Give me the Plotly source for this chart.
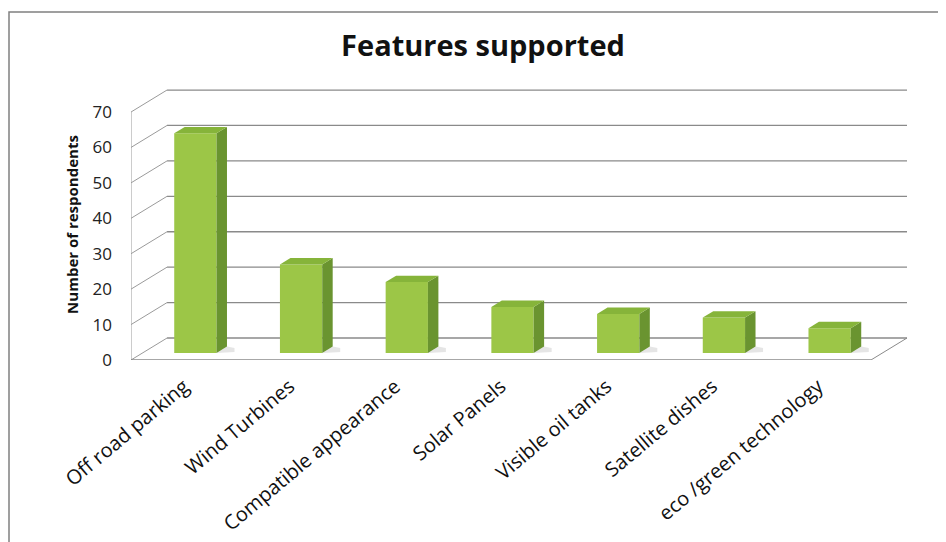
import plotly.graph_objects as go

# ---- data ----
categories = ["Off road parking", "Wind Turbines", "Compatible appearance", "Solar Panels",
              "Visible oil tanks", "Satellite dishes", "eco /green technology"]
respondents = [62, 25, 20, 13, 11, 10, 7]
y_ticks = [0, 10, 20, 30, 40, 50, 60, 70]

# ---- layout (page has an 8px body margin, so the figure is offset by 8px) ----
PAGE_OFF = 8
W, H = 946 - PAGE_OFF, 542 - PAGE_OFF
L, R, T, B = 131 - PAGE_OFF, 39, 89 - PAGE_OFF, 182

# ---- pseudo-3D geometry (axis units) ----
DX, DY = 0.341, 6.21          # wall depth offset
FX, FY = 0.109, 1.99          # bar front-face offset (depth inside floor)
HALF = 0.2                    # half bar width
BDX, BDY = 0.099, 1.8         # bar depth
XMIN, XMAX = -0.5, len(categories) - 0.5
YTOP = 76.5

FRONT = "#9cc647"
SIDE = "#6a9430"
TOP = "#86b43a"
GRID = "#8a8a8a"

fig = go.Figure()

# front faces of bars through the bar trace
fig.add_trace(go.Bar(
    x=[i + FX for i in range(len(categories))],
    y=respondents,
    base=[FY] * len(categories),
    width=2 * HALF,
    marker=dict(color=FRONT, line=dict(width=0)),
    hoverinfo="skip",
))

shapes = []
# back wall gridlines and side-wall diagonals
for v in y_ticks:
    shapes.append(dict(type="line", xref="x", yref="y", layer="below",
                       x0=XMIN + DX, y0=v + DY, x1=XMAX + DX, y1=v + DY,
                       line=dict(color=GRID, width=1.3)))
    shapes.append(dict(type="line", xref="x", yref="y", layer="below",
                       x0=XMIN, y0=v, x1=XMIN + DX, y1=v + DY,
                       line=dict(color="#9a9a9a", width=1)))
# side wall front vertical edge
shapes.append(dict(type="line", xref="x", yref="y", layer="below",
                   x0=XMIN, y0=0, x1=XMIN, y1=y_ticks[-1],
                   line=dict(color="#9a9a9a", width=1)))
# floor front edge and right diagonal
shapes.append(dict(type="line", xref="x", yref="y", layer="below",
                   x0=XMIN, y0=0, x1=XMAX, y1=0, line=dict(color=GRID, width=1.3)))
shapes.append(dict(type="line", xref="x", yref="y", layer="below",
                   x0=XMAX, y0=0, x1=XMAX + DX, y1=DY, line=dict(color=GRID, width=1)))

# bar shadows, side and top faces
for i, v in enumerate(respondents):
    x0 = i + FX - HALF
    x1 = i + FX + HALF
    shapes.append(dict(type="path", xref="x", yref="y", layer="below",
                       path=f"M{x1},{FY} L{x1 + 0.17},{FY + 0.3} L{x1 + 0.17},{FY + 1.4} L{x1 + BDX},{FY + BDY} Z",
                       fillcolor="rgba(150,150,150,0.25)", line=dict(width=0)))
    shapes.append(dict(type="path", xref="x", yref="y", layer="above",
                       path=f"M{x1},{FY} L{x1 + BDX},{FY + BDY} L{x1 + BDX},{FY + v + BDY} L{x1},{FY + v} Z",
                       fillcolor=SIDE, line=dict(width=0)))
    shapes.append(dict(type="path", xref="x", yref="y", layer="above",
                       path=f"M{x0},{FY + v} L{x1},{FY + v} L{x1 + BDX},{FY + v + BDY} L{x0 + BDX},{FY + v + BDY} Z",
                       fillcolor=TOP, line=dict(width=0)))

# outer chart border (page pixel coordinates -> paper)
def px_x(p):
    return (p - PAGE_OFF - L) / (W - L - R)

def px_y(p):
    return 1 - (p - PAGE_OFF - T) / (H - T - B)

shapes.append(dict(type="rect", xref="paper", yref="paper", layer="below",
                   x0=px_x(9), y0=px_y(560), x1=px_x(940), y1=px_y(12),
                   line=dict(color="#808080", width=1.5), fillcolor="rgba(0,0,0,0)"))

fig.update_layout(
    width=W, height=H,
    margin=dict(l=L, r=R, t=T, b=B),
    paper_bgcolor="white", plot_bgcolor="white",
    showlegend=False,
    shapes=shapes,
    title=dict(text="<b>Features supported</b>", xref="container", yref="container",
               x=(483 - PAGE_OFF) / W, y=1 - (46 - PAGE_OFF) / H,
               xanchor="center", yanchor="middle",
               font=dict(family="Open Sans", size=29, color="#111")),
    xaxis=dict(range=[XMIN, XMAX + DX], tickmode="array", automargin=False,
               tickvals=list(range(len(categories))), ticktext=categories,
               tickangle=-40, showgrid=False, zeroline=False, showline=False,
               ticks="", ticklabelstandoff=10,
               tickfont=dict(family="Open Sans", size=20, color="#111")),
    yaxis=dict(range=[0, YTOP], tickmode="array", tickvals=y_ticks, automargin=False,
               showgrid=False, zeroline=False, showline=False, ticks="",
               ticklabelstandoff=18,
               tickfont=dict(family="Open Sans", size=17, color="#222"),
               title=dict(text="<b>Number of respondents</b>", standoff=10,
                          font=dict(family="Open Sans", size=15, color="#111"))),
)

fig.write_html("out.html")
